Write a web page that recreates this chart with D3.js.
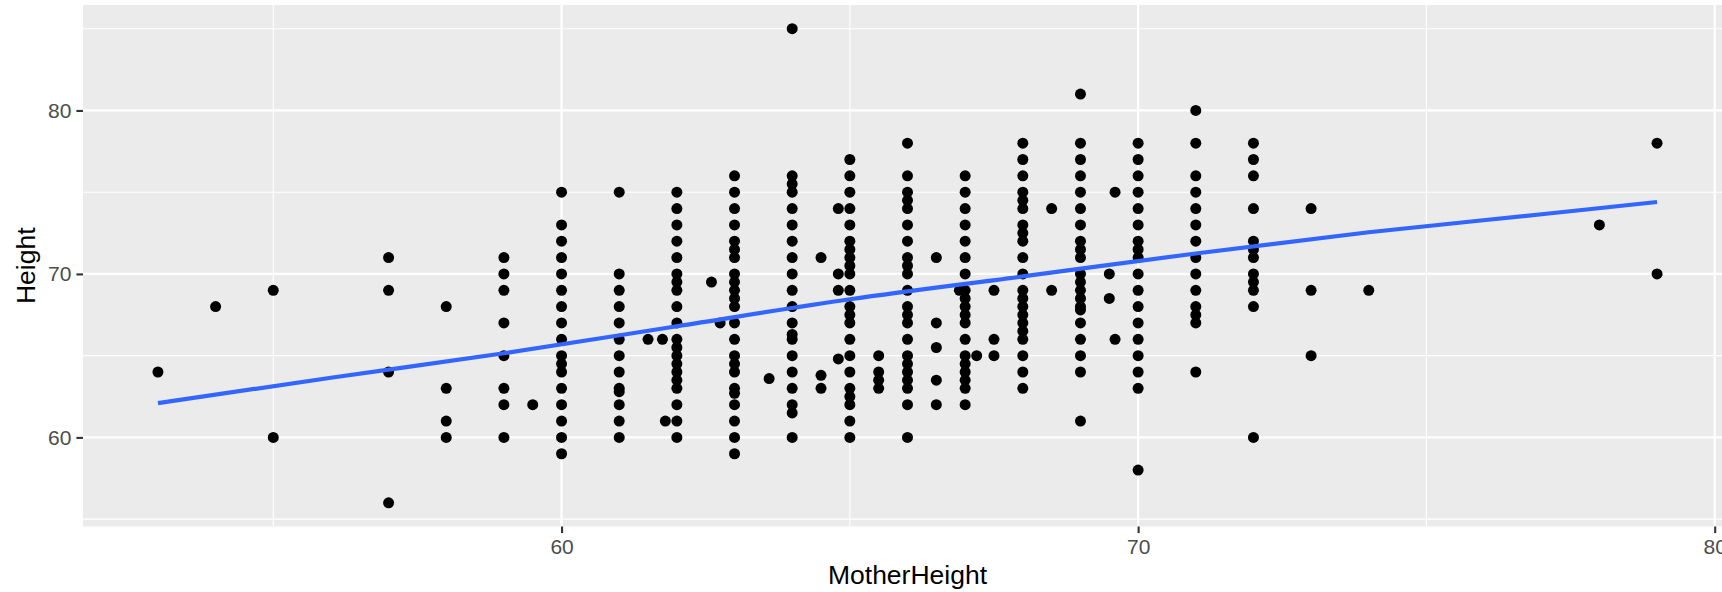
<!DOCTYPE html>
<html>
<head>
<meta charset="utf-8">
<script src="https://cdn.jsdelivr.net/npm/d3@7"></script>
<style>
  body { margin: 0; background: #fff; }
  text { font-family: "Liberation Sans", Arial, Helvetica, sans-serif; }
</style>
</head>
<body>
<script>
// mother heights that appear as columns of points
var xLevels = [53, 54, 55, 57, 58, 59, 60, 61, 62, 63, 64, 65, 66, 67, 68, 69, 70, 71, 72, 73, 74, 78, 79];
// child heights found at each of those mother heights
var heightsAt = [
  [64],
  [68],
  [69, 60],
  [71, 69, 64, 56],
  [68, 63, 61, 60],
  [71, 70, 69, 67, 65, 63, 62, 60],
  [75, 73, 72, 71, 70, 69, 68, 67, 66, 65, 64.5, 64, 63, 62, 61, 60, 59],
  [75, 70, 69, 68, 67, 66, 65, 64, 63, 62.8, 62, 61, 60],
  [75, 74, 73, 72, 71, 70, 69.5, 69, 68, 67, 66, 65.5, 65, 64.5, 64, 63.5, 63, 62, 61, 60],
  [76, 75, 74, 73, 72, 71.5, 71, 70, 69.5, 69, 68.5, 68, 67, 66, 65, 64.5, 64, 63, 62.7, 62, 61, 60, 59],
  [85, 76, 75.5, 75, 74, 73, 72, 71, 70, 69, 68, 67, 66.3, 66, 65, 64, 63, 62, 61.5, 60],
  [77, 76, 75, 74, 73, 72, 71.5, 71, 70.5, 70, 69, 68, 67.5, 67, 66, 65, 64, 63, 62.5, 62, 61, 60],
  [78, 76, 75, 74.5, 74, 73, 72, 71, 70.5, 70, 69, 68, 67.5, 67, 66, 65, 64.5, 64, 63.5, 63, 62, 60],
  [76, 75, 74, 73, 72, 71, 70, 69, 68.5, 68, 67.5, 67, 66, 65, 64.5, 64, 63.5, 63, 62],
  [78, 77, 76, 75, 74.5, 74, 73, 72.5, 72, 71, 70, 69, 68.5, 68, 67.5, 67, 66.5, 66, 65, 64, 63],
  [81, 78, 77, 76, 75, 74, 73, 72, 71.5, 71, 70, 69.5, 69, 68.5, 68, 67.8, 67, 66, 65, 64, 61],
  [78, 77, 76, 75, 74, 73, 72, 71.5, 71, 70, 69, 68, 67, 66, 65, 64, 63, 58],
  [80, 78, 76, 75, 74, 73, 72, 71, 70, 69, 68, 67.5, 67, 64],
  [78, 77, 76, 74, 72, 71.5, 71, 70, 69.5, 69, 68, 60],
  [74, 69, 65],
  [69],
  [73],
  [78, 70]
];
// the odd points sitting between the columns
var extraX = [59.5, 61.5, 61.75, 61.8, 62.6, 62.75, 63.6, 64.5, 64.5, 64.5, 64.8, 64.8, 64.8, 64.8,
  65.5, 65.5, 65.5, 65.5, 66.5, 66.5, 66.5, 66.5, 66.5, 66.9, 67.2, 67.5, 67.5, 67.5, 68.5, 68.5,
  69.6, 69.5, 69.5, 69.6];
var extraY = [62, 66, 66, 61, 69.5, 67, 63.6, 71, 63.8, 63, 74, 70, 69, 64.8,
  65, 64, 63.5, 63, 71, 67, 65.5, 63.5, 62, 69, 65, 69, 66, 65, 74, 69,
  75, 70, 68.5, 66];
// smoothed trend
var fitX = [53, 56, 59, 62, 65, 68, 71, 74, 77, 79];
var fitY = [62.1, 63.65, 65.15, 66.8, 68.45, 69.85, 71.25, 72.55, 73.65, 74.4];
// tick labels
var xTicks = [60, 70, 80];
var yTicks = [60, 70, 80];
var xMinor = [55, 65, 75];
var yMinor = [55, 65, 75, 85];

// put all points into one list
var points = [];
xLevels.forEach(function(x, i) {
  heightsAt[i].forEach(function(y) { points.push({x: x, y: y}); });
});
extraX.forEach(function(x, i) { points.push({x: x, y: extraY[i]}); });

var width = 1722, height = 592;
var panel = {left: 83, right: 1732, top: 5, bottom: 526.5};

var svg = d3.select("body").append("svg")
  .attr("width", width)
  .attr("height", height);

var xScale = d3.scaleLinear().domain([51.7, 80.3]).range([panel.left, panel.right]);
var yScale = d3.scaleLinear().domain([54.55, 86.45]).range([panel.bottom, panel.top]);

// grey panel
svg.append("rect")
  .attr("x", panel.left).attr("y", panel.top)
  .attr("width", panel.right - panel.left)
  .attr("height", panel.bottom - panel.top)
  .attr("fill", "#EBEBEB");

// grid lines, minor then major
var grid = svg.append("g");
grid.selectAll(".xminor").data(xMinor).enter().append("line")
  .attr("x1", function(d) { return xScale(d); }).attr("x2", function(d) { return xScale(d); })
  .attr("y1", panel.top).attr("y2", panel.bottom)
  .attr("stroke", "#fff").attr("stroke-width", 1.1);
grid.selectAll(".yminor").data(yMinor).enter().append("line")
  .attr("x1", panel.left).attr("x2", panel.right)
  .attr("y1", function(d) { return yScale(d); }).attr("y2", function(d) { return yScale(d); })
  .attr("stroke", "#fff").attr("stroke-width", 1.1);
grid.selectAll(".xmajor").data(xTicks).enter().append("line")
  .attr("x1", function(d) { return xScale(d); }).attr("x2", function(d) { return xScale(d); })
  .attr("y1", panel.top).attr("y2", panel.bottom)
  .attr("stroke", "#fff").attr("stroke-width", 2.2);
grid.selectAll(".ymajor").data(yTicks).enter().append("line")
  .attr("x1", panel.left).attr("x2", panel.right)
  .attr("y1", function(d) { return yScale(d); }).attr("y2", function(d) { return yScale(d); })
  .attr("stroke", "#fff").attr("stroke-width", 2.2);

// points
svg.append("g").selectAll("circle")
  .data(points)
  .enter()
  .append("circle")
  .attr("cx", function(d) { return xScale(d.x); })
  .attr("cy", function(d) { return yScale(d.y); })
  .attr("r", 5.5)
  .attr("fill", "#000");

// smooth trend line
var line = d3.line()
  .curve(d3.curveMonotoneX)
  .x(function(d) { return xScale(d[0]); })
  .y(function(d) { return yScale(d[1]); });
svg.append("path")
  .datum(d3.zip(fitX, fitY))
  .attr("d", line)
  .attr("fill", "none")
  .attr("stroke", "#3366FF")
  .attr("stroke-width", 4.2);

// axes
var xAxis = d3.axisBottom(xScale).tickValues(xTicks).tickSize(6.6).tickPadding(6);
var yAxis = d3.axisLeft(yScale).tickValues(yTicks).tickSize(6.6).tickPadding(5);

var gx = svg.append("g")
  .attr("transform", "translate(0," + panel.bottom + ")")
  .call(xAxis);
var gy = svg.append("g")
  .attr("transform", "translate(" + panel.left + ",0)")
  .call(yAxis);

[gx, gy].forEach(function(g) {
  g.select(".domain").remove();
  g.selectAll(".tick line").attr("stroke", "#333333").attr("stroke-width", 2.1);
  g.selectAll(".tick text")
    .attr("fill", "#4D4D4D")
    .style("font-size", "21px")
    .style("font-family", "'Liberation Sans', Arial, sans-serif");
});

// axis titles
svg.append("text")
  .attr("x", (panel.left + panel.right) / 2)
  .attr("y", 584)
  .attr("text-anchor", "middle")
  .style("font-size", "26.5px")
  .attr("fill", "#000")
  .text("MotherHeight");

svg.append("text")
  .attr("transform", "translate(34.5," + (panel.top + panel.bottom) / 2 + ") rotate(-90)")
  .attr("text-anchor", "middle")
  .style("font-size", "26.5px")
  .attr("fill", "#000")
  .text("Height");
</script>
</body>
</html>
